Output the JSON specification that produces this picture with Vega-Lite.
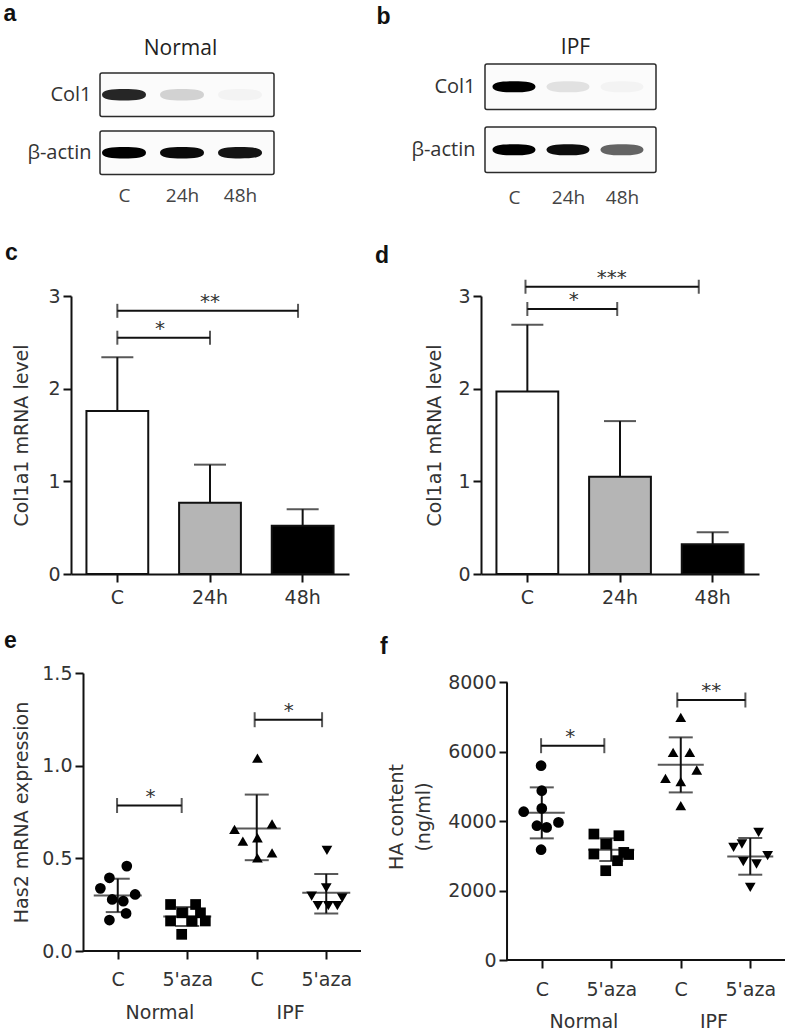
{
  "$schema": "https://vega.github.io/schema/vega-lite/v6.json",
  "padding": {"left": 3, "top": 2, "right": 2, "bottom": 2},
  "columns": 2,
  "spacing": {"row": 99, "column": 120},
  "bounds": "flush",
  "align": "each",
  "datasets": {
    "boxes": [{"protein": "Col1"}, {"protein": "β-actin"}],
    "blotA": [
      {"protein": "Col1", "lane": "C", "pos": 1, "intensity": 0.85},
      {"protein": "Col1", "lane": "24h", "pos": 2, "intensity": 0.16},
      {"protein": "Col1", "lane": "48h", "pos": 3, "intensity": 0.03},
      {"protein": "β-actin", "lane": "C", "pos": 1, "intensity": 1.0},
      {"protein": "β-actin", "lane": "24h", "pos": 2, "intensity": 0.96},
      {"protein": "β-actin", "lane": "48h", "pos": 3, "intensity": 0.92}
    ],
    "blotB": [
      {"protein": "Col1", "lane": "C", "pos": 1, "intensity": 1.0},
      {"protein": "Col1", "lane": "24h", "pos": 2, "intensity": 0.1},
      {"protein": "Col1", "lane": "48h", "pos": 3, "intensity": 0.03},
      {"protein": "β-actin", "lane": "C", "pos": 1, "intensity": 1.0},
      {"protein": "β-actin", "lane": "24h", "pos": 2, "intensity": 0.95},
      {"protein": "β-actin", "lane": "48h", "pos": 3, "intensity": 0.6}
    ],
    "col1a1_normal": [
      {"grp": "C", "mean": 1.76, "upper": 2.34},
      {"grp": "24h", "mean": 0.77, "upper": 1.18},
      {"grp": "48h", "mean": 0.52, "upper": 0.70}
    ],
    "col1a1_ipf": [
      {"grp": "C", "mean": 1.97, "upper": 2.69},
      {"grp": "24h", "mean": 1.05, "upper": 1.65},
      {"grp": "48h", "mean": 0.32, "upper": 0.45}
    ],
    "sig_c": [
      {"from": 1, "to": 2.95, "y": 2.84, "mid": 2.0, "label": "**"},
      {"from": 1, "to": 2.0, "y": 2.55, "mid": 1.46, "label": "*"}
    ],
    "sig_d": [
      {"from": 0.98, "to": 2.85, "y": 3.10, "mid": 1.91, "label": "***"},
      {"from": 1.0, "to": 1.97, "y": 2.86, "mid": 1.50, "label": "*"}
    ],
    "has2": [
      {"group": "Normal C", "x": 1.13, "v": 0.458},
      {"group": "Normal C", "x": 0.88, "v": 0.395},
      {"group": "Normal C", "x": 0.75, "v": 0.338},
      {"group": "Normal C", "x": 1.25, "v": 0.305},
      {"group": "Normal C", "x": 0.92, "v": 0.278},
      {"group": "Normal C", "x": 1.08, "v": 0.269},
      {"group": "Normal C", "x": 1.12, "v": 0.203},
      {"group": "Normal C", "x": 0.88, "v": 0.167},
      {"group": "Normal 5'aza", "x": 1.76, "v": 0.251},
      {"group": "Normal 5'aza", "x": 2.12, "v": 0.251},
      {"group": "Normal 5'aza", "x": 1.92, "v": 0.206},
      {"group": "Normal 5'aza", "x": 2.19, "v": 0.206},
      {"group": "Normal 5'aza", "x": 1.76, "v": 0.162},
      {"group": "Normal 5'aza", "x": 2.07, "v": 0.162},
      {"group": "Normal 5'aza", "x": 2.26, "v": 0.162},
      {"group": "Normal 5'aza", "x": 1.92, "v": 0.090},
      {"group": "IPF C", "x": 3.01, "v": 1.041},
      {"group": "IPF C", "x": 2.68, "v": 0.656},
      {"group": "IPF C", "x": 3.22, "v": 0.686},
      {"group": "IPF C", "x": 2.80, "v": 0.593},
      {"group": "IPF C", "x": 3.01, "v": 0.611},
      {"group": "IPF C", "x": 3.22, "v": 0.530},
      {"group": "IPF C", "x": 3.01, "v": 0.503},
      {"group": "IPF 5'aza", "x": 4.01, "v": 0.543},
      {"group": "IPF 5'aza", "x": 4.00, "v": 0.341},
      {"group": "IPF 5'aza", "x": 3.79, "v": 0.296},
      {"group": "IPF 5'aza", "x": 4.23, "v": 0.287},
      {"group": "IPF 5'aza", "x": 3.88, "v": 0.245},
      {"group": "IPF 5'aza", "x": 4.03, "v": 0.245},
      {"group": "IPF 5'aza", "x": 4.16, "v": 0.245}
    ],
    "has2_summary": [
      {"col": 1, "mean": 0.30, "lo": 0.21, "hi": 0.39},
      {"col": 2, "mean": 0.186, "lo": 0.135, "hi": 0.237},
      {"col": 3, "mean": 0.661, "lo": 0.49, "hi": 0.844},
      {"col": 4, "mean": 0.314, "lo": 0.203, "hi": 0.416}
    ],
    "sig_e": [
      {"from": 0.99, "to": 1.92, "y": 0.785, "mid": 1.47, "label": "*"},
      {"from": 2.97, "to": 3.94, "y": 1.248, "mid": 3.46, "label": "*"}
    ],
    "ha": [
      {"group": "Normal C", "x": 0.99, "v": 5600},
      {"group": "Normal C", "x": 1.00, "v": 4879},
      {"group": "Normal C", "x": 0.74, "v": 4274},
      {"group": "Normal C", "x": 1.00, "v": 4369},
      {"group": "Normal C", "x": 0.93, "v": 3870},
      {"group": "Normal C", "x": 1.07, "v": 3822},
      {"group": "Normal C", "x": 1.24, "v": 3966},
      {"group": "Normal C", "x": 0.99, "v": 3179},
      {"group": "Normal 5'aza", "x": 1.75, "v": 3630},
      {"group": "Normal 5'aza", "x": 2.11, "v": 3582},
      {"group": "Normal 5'aza", "x": 1.92, "v": 3343},
      {"group": "Normal 5'aza", "x": 1.75, "v": 3055},
      {"group": "Normal 5'aza", "x": 2.18, "v": 3101},
      {"group": "Normal 5'aza", "x": 2.25, "v": 3040},
      {"group": "Normal 5'aza", "x": 2.09, "v": 2862},
      {"group": "Normal 5'aza", "x": 1.92, "v": 2574},
      {"group": "IPF C", "x": 3.00, "v": 6992},
      {"group": "IPF C", "x": 2.89, "v": 5983},
      {"group": "IPF C", "x": 3.13, "v": 5983},
      {"group": "IPF C", "x": 3.23, "v": 5476},
      {"group": "IPF C", "x": 2.78, "v": 5234},
      {"group": "IPF C", "x": 3.00, "v": 5139},
      {"group": "IPF C", "x": 3.00, "v": 4447},
      {"group": "IPF 5'aza", "x": 4.12, "v": 3678},
      {"group": "IPF 5'aza", "x": 3.76, "v": 3245},
      {"group": "IPF 5'aza", "x": 3.88, "v": 3343},
      {"group": "IPF 5'aza", "x": 3.90, "v": 2833},
      {"group": "IPF 5'aza", "x": 4.09, "v": 2767},
      {"group": "IPF 5'aza", "x": 4.25, "v": 3006},
      {"group": "IPF 5'aza", "x": 4.00, "v": 2093}
    ],
    "ha_summary": [
      {"col": 1, "mean": 4240, "lo": 3505, "hi": 4975},
      {"col": 2, "mean": 3180, "lo": 2850, "hi": 3510},
      {"col": 3, "mean": 5629, "lo": 4830, "hi": 6416},
      {"col": 4, "mean": 2986, "lo": 2458, "hi": 3516}
    ],
    "sig_f": [
      {"from": 0.99, "to": 1.90, "y": 6176, "mid": 1.41, "label": "*"},
      {"from": 2.95, "to": 3.93, "y": 7493, "mid": 3.44, "label": "**"}
    ]
  },
  "concat": [
    {
      "width": 203, "height": 136,
      "layer": [
        {
          "data": {"name": "boxes"},
          "mark": {"type": "rect", "fill": "#fbfbfb", "stroke": "#2b2b2b", "strokeWidth": 1.5, "cornerRadius": 2},
          "encoding": {
            "x": {"datum": 0.586, "type": "quantitative", "scale": {"domain": [0.086, 3.586], "nice": false, "zero": false},
                  "axis": {"orient": "top", "title": "Normal", "labels": false, "ticks": false, "domain": false, "titleFont": "Open Sans", "titleFontSize": 21, "titleFontWeight": "normal", "titleColor": "#222", "titleX": 109, "titleY": -7, "titleAlign": "center", "titleBaseline": "alphabetic", "titleAngle": 0}},
            "x2": {"datum": 3.586},
            "y": {"field": "protein", "type": "nominal", "sort": null,
                  "scale": {"domain": ["Col1", "β-actin"], "paddingInner": 0.25, "paddingOuter": 0.297, "align": 0.348},
                  "axis": {"title": "a", "titleAngle": 0, "titleX": -97, "titleY": -41, "titleAlign": "left", "titleBaseline": "alphabetic", "titleFont": "Liberation Sans", "titleFontSize": 23, "titleFontWeight": "bold", "titleColor": "#111", "offset": -29, "domain": false, "ticks": false, "tickSize": 0, "labelPadding": 9, "labelFont": "Open Sans", "labelFontSize": 20, "labelColor": "#333"}}
          }
        },
        {
          "data": {"name": "blotA"},
          "mark": {"type": "point", "shape": "M-1,0C-1,-0.22,-0.55,-0.26,0,-0.26C0.55,-0.26,1,-0.22,1,0C1,0.22,0.55,0.26,0,0.26C-0.55,0.26,-1,0.22,-1,0Z", "filled": true, "color": "#000", "size": 1936, "strokeWidth": 0},
          "encoding": {
            "x": {"field": "pos", "type": "quantitative", "scale": {"domain": [0.086, 3.586], "nice": false, "zero": false},
                  "axis": {"orient": "bottom", "values": [1, 2, 3], "labelExpr": "['C','24h','48h'][datum.value-1]", "domain": false, "ticks": false, "tickSize": 0, "labelPadding": 4, "labelBaseline": "alphabetic", "labelFont": "Open Sans", "labelFontSize": 19, "labelColor": "#444", "title": null}},
            "y": {"field": "protein", "type": "nominal", "sort": null,
                  "scale": {"domain": ["Col1", "β-actin"], "paddingInner": 0.25, "paddingOuter": 0.297, "align": 0.348},
                  "axis": {"title": "a", "titleAngle": 0, "titleX": -97, "titleY": -41, "titleAlign": "left", "titleBaseline": "alphabetic", "titleFont": "Liberation Sans", "titleFontSize": 23, "titleFontWeight": "bold", "titleColor": "#111", "offset": -29, "domain": false, "ticks": false, "tickSize": 0, "labelPadding": 9, "labelFont": "Open Sans", "labelFontSize": 20, "labelColor": "#333"}},
            "opacity": {"field": "intensity", "type": "quantitative", "scale": {"domain": [0, 1], "range": [0, 1]}, "legend": null}
          }
        }
      ],
      "resolve": {"axis": {"x": "independent"}}
    },
    {
      "width": 175, "height": 136,
      "layer": [
        {
          "data": {"name": "boxes"},
          "mark": {"type": "rect", "fill": "#fbfbfb", "stroke": "#2b2b2b", "strokeWidth": 1.5, "cornerRadius": 2},
          "encoding": {
            "x": {"datum": 0.463, "type": "quantitative", "scale": {"domain": [0.389, 3.63], "nice": false, "zero": false},
                  "axis": {"orient": "top", "title": "IPF", "labels": false, "ticks": false, "domain": false, "titleFont": "Open Sans", "titleFontSize": 21, "titleFontWeight": "normal", "titleColor": "#222", "titleX": 94, "titleY": -8, "titleAlign": "center", "titleBaseline": "alphabetic", "titleAngle": 0}},
            "x2": {"datum": 3.63},
            "y": {"field": "protein", "type": "nominal", "sort": null,
                  "scale": {"domain": ["Col1", "β-actin"], "paddingInner": 0.278, "paddingOuter": 0.218, "align": 0.109},
                  "axis": {"title": "b", "titleAngle": 0, "titleX": -109, "titleY": -38, "titleAlign": "left", "titleBaseline": "alphabetic", "titleFont": "Liberation Sans", "titleFontSize": 23, "titleFontWeight": "bold", "titleColor": "#111", "offset": -4, "domain": false, "ticks": false, "tickSize": 0, "labelPadding": 10, "labelFont": "Open Sans", "labelFontSize": 20, "labelColor": "#333"}}
          }
        },
        {
          "data": {"name": "blotB"},
          "mark": {"type": "point", "shape": "M-1,0C-1,-0.22,-0.55,-0.26,0,-0.26C0.55,-0.26,1,-0.22,1,0C1,0.22,0.55,0.26,0,0.26C-0.55,0.26,-1,0.22,-1,0Z", "filled": true, "color": "#000", "size": 1850, "strokeWidth": 0},
          "encoding": {
            "x": {"field": "pos", "type": "quantitative", "scale": {"domain": [0.389, 3.63], "nice": false, "zero": false},
                  "axis": {"orient": "bottom", "values": [1, 2, 3], "labelExpr": "['C','24h','48h'][datum.value-1]", "domain": false, "ticks": false, "tickSize": 0, "labelPadding": 6, "labelBaseline": "alphabetic", "labelFont": "Open Sans", "labelFontSize": 19, "labelColor": "#444", "title": null}},
            "y": {"field": "protein", "type": "nominal", "sort": null,
                  "scale": {"domain": ["Col1", "β-actin"], "paddingInner": 0.278, "paddingOuter": 0.218, "align": 0.109},
                  "axis": {"title": "b", "titleAngle": 0, "titleX": -109, "titleY": -38, "titleAlign": "left", "titleBaseline": "alphabetic", "titleFont": "Liberation Sans", "titleFontSize": 23, "titleFontWeight": "bold", "titleColor": "#111", "offset": -4, "domain": false, "ticks": false, "tickSize": 0, "labelPadding": 10, "labelFont": "Open Sans", "labelFontSize": 20, "labelColor": "#333"}},
            "opacity": {"field": "intensity", "type": "quantitative", "scale": {"domain": [0, 1], "range": [0, 1]}, "legend": null}
          }
        }
      ],
      "resolve": {"axis": {"x": "independent"}}
    },
    {
      "width": 278, "height": 278,
      "title": {"text": "c", "dx": -66, "dy": -18},
      "layer": [
        {
          "data": {"name": "col1a1_normal"},
          "mark": {"type": "bar", "stroke": "#111", "strokeWidth": 2},
          "encoding": {
            "x": {"field": "grp", "type": "nominal", "sort": null, "scale": {"domain": ["C", "24h", "48h"], "paddingInner": 0.333, "paddingOuter": 0.1667}, "axis": {"title": null, "labelAngle": 0, "labelPadding": 6}},
            "y": {"field": "mean", "type": "quantitative", "scale": {"domain": [0, 3], "nice": false}, "axis": {"values": [0, 1, 2, 3], "title": "Col1a1 mRNA level", "titlePadding": 16}},
            "color": {"field": "grp", "type": "nominal", "scale": {"domain": ["C", "24h", "48h"], "range": ["#ffffff", "#b5b5b5", "#000000"]}, "legend": null}
          }
        },
        {
          "data": {"name": "col1a1_normal"},
          "mark": {"type": "rule", "strokeWidth": 2, "color": "#111"},
          "encoding": {
            "x": {"field": "grp", "type": "nominal", "sort": null, "scale": {"domain": ["C", "24h", "48h"], "paddingInner": 0.333, "paddingOuter": 0.1667}, "axis": null},
            "y": {"field": "mean", "type": "quantitative", "scale": {"domain": [0, 3], "nice": false}, "axis": {"values": [0, 1, 2, 3], "title": "Col1a1 mRNA level", "titlePadding": 16}},
            "y2": {"field": "upper"}
          }
        },
        {
          "data": {"name": "col1a1_normal"},
          "mark": {"type": "tick", "orient": "horizontal", "size": 32, "thickness": 2, "color": "#111"},
          "encoding": {
            "x": {"field": "grp", "type": "nominal", "sort": null, "scale": {"domain": ["C", "24h", "48h"], "paddingInner": 0.333, "paddingOuter": 0.1667}, "axis": null},
            "y": {"field": "upper", "type": "quantitative", "scale": {"domain": [0, 3], "nice": false}, "axis": {"values": [0, 1, 2, 3], "title": "Col1a1 mRNA level", "titlePadding": 16}}
          }
        },
        {
          "data": {"name": "sig_c"},
          "mark": {"type": "rule", "strokeWidth": 2, "color": "#111"},
          "encoding": {
            "x": {"field": "from", "type": "quantitative", "scale": {"domain": [0.5, 3.5], "nice": false, "zero": false}, "axis": null},
            "x2": {"field": "to"},
            "y": {"field": "y", "type": "quantitative", "scale": {"domain": [0, 3], "nice": false}, "axis": {"values": [0, 1, 2, 3], "title": "Col1a1 mRNA level", "titlePadding": 16}}
          }
        },
        {
          "data": {"name": "sig_c"},
          "mark": {"type": "tick", "orient": "vertical", "size": 14, "thickness": 2, "color": "#111"},
          "encoding": {
            "x": {"field": "from", "type": "quantitative", "scale": {"domain": [0.5, 3.5], "nice": false, "zero": false}, "axis": null},
            "y": {"field": "y", "type": "quantitative", "scale": {"domain": [0, 3], "nice": false}, "axis": {"values": [0, 1, 2, 3], "title": "Col1a1 mRNA level", "titlePadding": 16}}
          }
        },
        {
          "data": {"name": "sig_c"},
          "mark": {"type": "tick", "orient": "vertical", "size": 14, "thickness": 2, "color": "#111"},
          "encoding": {
            "x": {"field": "to", "type": "quantitative", "scale": {"domain": [0.5, 3.5], "nice": false, "zero": false}, "axis": null},
            "y": {"field": "y", "type": "quantitative", "scale": {"domain": [0, 3], "nice": false}, "axis": {"values": [0, 1, 2, 3], "title": "Col1a1 mRNA level", "titlePadding": 16}}
          }
        },
        {
          "data": {"name": "sig_c"},
          "mark": {"type": "text", "fontSize": 20, "dy": -3, "baseline": "alphabetic", "color": "#333"},
          "encoding": {
            "x": {"field": "mid", "type": "quantitative", "scale": {"domain": [0.5, 3.5], "nice": false, "zero": false}, "axis": null},
            "y": {"field": "y", "type": "quantitative", "scale": {"domain": [0, 3], "nice": false}, "axis": {"values": [0, 1, 2, 3], "title": "Col1a1 mRNA level", "titlePadding": 16}},
            "text": {"field": "label"}
          }
        }
      ],
      "resolve": {"scale": {"x": "independent"}}
    },
    {
      "width": 278, "height": 278,
      "title": {"text": "d", "dx": -106, "dy": 4},
      "layer": [
        {
          "data": {"name": "col1a1_ipf"},
          "mark": {"type": "bar", "stroke": "#111", "strokeWidth": 2},
          "encoding": {
            "x": {"field": "grp", "type": "nominal", "sort": null, "scale": {"domain": ["C", "24h", "48h"], "paddingInner": 0.333, "paddingOuter": 0.1667}, "axis": {"title": null, "labelAngle": 0, "labelPadding": 6}},
            "y": {"field": "mean", "type": "quantitative", "scale": {"domain": [0, 3], "nice": false}, "axis": {"values": [0, 1, 2, 3], "title": "Col1a1 mRNA level", "titlePadding": 13}},
            "color": {"field": "grp", "type": "nominal", "scale": {"domain": ["C", "24h", "48h"], "range": ["#ffffff", "#b5b5b5", "#000000"]}, "legend": null}
          }
        },
        {
          "data": {"name": "col1a1_ipf"},
          "mark": {"type": "rule", "strokeWidth": 2, "color": "#111"},
          "encoding": {
            "x": {"field": "grp", "type": "nominal", "sort": null, "scale": {"domain": ["C", "24h", "48h"], "paddingInner": 0.333, "paddingOuter": 0.1667}, "axis": null},
            "y": {"field": "mean", "type": "quantitative", "scale": {"domain": [0, 3], "nice": false}, "axis": {"values": [0, 1, 2, 3], "title": "Col1a1 mRNA level", "titlePadding": 13}},
            "y2": {"field": "upper"}
          }
        },
        {
          "data": {"name": "col1a1_ipf"},
          "mark": {"type": "tick", "orient": "horizontal", "size": 32, "thickness": 2, "color": "#111"},
          "encoding": {
            "x": {"field": "grp", "type": "nominal", "sort": null, "scale": {"domain": ["C", "24h", "48h"], "paddingInner": 0.333, "paddingOuter": 0.1667}, "axis": null},
            "y": {"field": "upper", "type": "quantitative", "scale": {"domain": [0, 3], "nice": false}, "axis": {"values": [0, 1, 2, 3], "title": "Col1a1 mRNA level", "titlePadding": 13}}
          }
        },
        {
          "data": {"name": "sig_d"},
          "mark": {"type": "rule", "strokeWidth": 2, "color": "#111"},
          "encoding": {
            "x": {"field": "from", "type": "quantitative", "scale": {"domain": [0.5, 3.5], "nice": false, "zero": false}, "axis": null},
            "x2": {"field": "to"},
            "y": {"field": "y", "type": "quantitative", "scale": {"domain": [0, 3], "nice": false}, "axis": {"values": [0, 1, 2, 3], "title": "Col1a1 mRNA level", "titlePadding": 13}}
          }
        },
        {
          "data": {"name": "sig_d"},
          "mark": {"type": "tick", "orient": "vertical", "size": 14, "thickness": 2, "color": "#111"},
          "encoding": {
            "x": {"field": "from", "type": "quantitative", "scale": {"domain": [0.5, 3.5], "nice": false, "zero": false}, "axis": null},
            "y": {"field": "y", "type": "quantitative", "scale": {"domain": [0, 3], "nice": false}, "axis": {"values": [0, 1, 2, 3], "title": "Col1a1 mRNA level", "titlePadding": 13}}
          }
        },
        {
          "data": {"name": "sig_d"},
          "mark": {"type": "tick", "orient": "vertical", "size": 14, "thickness": 2, "color": "#111"},
          "encoding": {
            "x": {"field": "to", "type": "quantitative", "scale": {"domain": [0.5, 3.5], "nice": false, "zero": false}, "axis": null},
            "y": {"field": "y", "type": "quantitative", "scale": {"domain": [0, 3], "nice": false}, "axis": {"values": [0, 1, 2, 3], "title": "Col1a1 mRNA level", "titlePadding": 13}}
          }
        },
        {
          "data": {"name": "sig_d"},
          "mark": {"type": "text", "fontSize": 20, "dy": -3, "baseline": "alphabetic", "color": "#333"},
          "encoding": {
            "x": {"field": "mid", "type": "quantitative", "scale": {"domain": [0.5, 3.5], "nice": false, "zero": false}, "axis": null},
            "y": {"field": "y", "type": "quantitative", "scale": {"domain": [0, 3], "nice": false}, "axis": {"values": [0, 1, 2, 3], "title": "Col1a1 mRNA level", "titlePadding": 13}},
            "text": {"field": "label"}
          }
        }
      ],
      "resolve": {"scale": {"x": "independent"}}
    },
    {
      "width": 290, "height": 278,
      "title": {"text": "e", "dx": -67, "dy": -7},
      "layer": [
        {
          "data": {"values": [{}]},
          "mark": {"type": "rule", "strokeWidth": 2, "color": "#111"},
          "encoding": {
            "x": {"datum": 0.5, "type": "quantitative", "scale": {"domain": [0.3273, 4.5], "nice": false, "zero": false},
                  "axis": {"orient": "bottom", "values": [1.6, 3.48], "labelExpr": "datum.value < 2.5 ? 'Normal' : 'IPF'", "ticks": false, "tickSize": 0, "domain": false, "labelPadding": 52, "title": null}},
            "x2": {"datum": 4.5},
            "y": {"datum": 0, "type": "quantitative", "scale": {"domain": [0, 1.5], "nice": false}, "axis": {"values": [0, 0.5, 1, 1.5], "format": ".1f", "title": "Has2  mRNA expression", "titlePadding": 10, "offset": -12}}
          }
        },
        {
          "data": {"name": "has2_summary"},
          "mark": {"type": "rule", "strokeWidth": 2, "color": "#111"},
          "encoding": {
            "x": {"field": "col", "type": "quantitative", "scale": {"domain": [0.3273, 4.5], "nice": false, "zero": false}, "axis": null},
            "y": {"field": "lo", "type": "quantitative", "scale": {"domain": [0, 1.5], "nice": false}, "axis": {"values": [0, 0.5, 1, 1.5], "format": ".1f", "title": "Has2  mRNA expression", "titlePadding": 10, "offset": -12}},
            "y2": {"field": "hi"}
          }
        },
        {
          "data": {"name": "has2_summary"},
          "mark": {"type": "tick", "orient": "horizontal", "size": 48, "thickness": 2, "color": "#111"},
          "encoding": {
            "x": {"field": "col", "type": "quantitative", "scale": {"domain": [0.3273, 4.5], "nice": false, "zero": false}, "axis": null},
            "y": {"field": "mean", "type": "quantitative", "scale": {"domain": [0, 1.5], "nice": false}, "axis": {"values": [0, 0.5, 1, 1.5], "format": ".1f", "title": "Has2  mRNA expression", "titlePadding": 10, "offset": -12}}
          }
        },
        {
          "data": {"name": "has2_summary"},
          "mark": {"type": "tick", "orient": "horizontal", "size": 24, "thickness": 2, "color": "#111"},
          "encoding": {
            "x": {"field": "col", "type": "quantitative", "scale": {"domain": [0.3273, 4.5], "nice": false, "zero": false}, "axis": null},
            "y": {"field": "lo", "type": "quantitative", "scale": {"domain": [0, 1.5], "nice": false}, "axis": {"values": [0, 0.5, 1, 1.5], "format": ".1f", "title": "Has2  mRNA expression", "titlePadding": 10, "offset": -12}}
          }
        },
        {
          "data": {"name": "has2_summary"},
          "mark": {"type": "tick", "orient": "horizontal", "size": 24, "thickness": 2, "color": "#111"},
          "encoding": {
            "x": {"field": "col", "type": "quantitative", "scale": {"domain": [0.3273, 4.5], "nice": false, "zero": false}, "axis": null},
            "y": {"field": "hi", "type": "quantitative", "scale": {"domain": [0, 1.5], "nice": false}, "axis": {"values": [0, 0.5, 1, 1.5], "format": ".1f", "title": "Has2  mRNA expression", "titlePadding": 10, "offset": -12}}
          }
        },
        {
          "data": {"name": "has2"},
          "mark": {"type": "point", "filled": true, "color": "#000", "opacity": 1, "size": 115, "strokeWidth": 0},
          "encoding": {
            "x": {"field": "x", "type": "quantitative", "scale": {"domain": [0.3273, 4.5], "nice": false, "zero": false},
                  "axis": {"orient": "bottom", "values": [1, 2, 3, 4], "labelExpr": "datum.value == 1 || datum.value == 3 ? 'C' : \"5'aza\"", "domain": false, "labelPadding": 11, "title": null}},
            "y": {"field": "v", "type": "quantitative", "scale": {"domain": [0, 1.5], "nice": false}, "axis": {"values": [0, 0.5, 1, 1.5], "format": ".1f", "title": "Has2  mRNA expression", "titlePadding": 10, "offset": -12}},
            "shape": {"field": "group", "type": "nominal", "scale": {"domain": ["Normal C", "Normal 5'aza", "IPF C", "IPF 5'aza"], "range": ["circle", "square", "triangle-up", "triangle-down"]}, "legend": null}
          }
        },
        {
          "data": {"name": "sig_e"},
          "mark": {"type": "rule", "strokeWidth": 2, "color": "#111"},
          "encoding": {
            "x": {"field": "from", "type": "quantitative", "scale": {"domain": [0.3273, 4.5], "nice": false, "zero": false}, "axis": null},
            "x2": {"field": "to"},
            "y": {"field": "y", "type": "quantitative", "scale": {"domain": [0, 1.5], "nice": false}, "axis": {"values": [0, 0.5, 1, 1.5], "format": ".1f", "title": "Has2  mRNA expression", "titlePadding": 10, "offset": -12}}
          }
        },
        {
          "data": {"name": "sig_e"},
          "mark": {"type": "tick", "orient": "vertical", "size": 15, "thickness": 2, "color": "#111"},
          "encoding": {
            "x": {"field": "from", "type": "quantitative", "scale": {"domain": [0.3273, 4.5], "nice": false, "zero": false}, "axis": null},
            "y": {"field": "y", "type": "quantitative", "scale": {"domain": [0, 1.5], "nice": false}, "axis": {"values": [0, 0.5, 1, 1.5], "format": ".1f", "title": "Has2  mRNA expression", "titlePadding": 10, "offset": -12}}
          }
        },
        {
          "data": {"name": "sig_e"},
          "mark": {"type": "tick", "orient": "vertical", "size": 15, "thickness": 2, "color": "#111"},
          "encoding": {
            "x": {"field": "to", "type": "quantitative", "scale": {"domain": [0.3273, 4.5], "nice": false, "zero": false}, "axis": null},
            "y": {"field": "y", "type": "quantitative", "scale": {"domain": [0, 1.5], "nice": false}, "axis": {"values": [0, 0.5, 1, 1.5], "format": ".1f", "title": "Has2  mRNA expression", "titlePadding": 10, "offset": -12}}
          }
        },
        {
          "data": {"name": "sig_e"},
          "mark": {"type": "text", "fontSize": 20, "dy": -3, "baseline": "alphabetic", "color": "#333"},
          "encoding": {
            "x": {"field": "mid", "type": "quantitative", "scale": {"domain": [0.3273, 4.5], "nice": false, "zero": false}, "axis": null},
            "y": {"field": "y", "type": "quantitative", "scale": {"domain": [0, 1.5], "nice": false}, "axis": {"values": [0, 0.5, 1, 1.5], "format": ".1f", "title": "Has2  mRNA expression", "titlePadding": 10, "offset": -12}},
            "text": {"field": "label"}
          }
        }
      ],
      "resolve": {"axis": {"x": "independent"}}
    },
    {
      "width": 304, "height": 287,
      "title": {"text": "f", "dx": -101, "dy": -10},
      "layer": [
        {
          "data": {"values": [{}]},
          "mark": {"type": "rule", "strokeWidth": 2, "color": "#111"},
          "encoding": {
            "x": {"datum": 0.5, "type": "quantitative", "scale": {"domain": [0.1254, 4.5], "nice": false, "zero": false},
                  "axis": {"orient": "bottom", "values": [1.6, 3.47], "labelExpr": "datum.value < 2.5 ? 'Normal' : 'IPF'", "ticks": false, "tickSize": 0, "domain": false, "labelPadding": 52, "title": null}},
            "x2": {"datum": 4.5},
            "y": {"datum": 0, "type": "quantitative", "scale": {"domain": [0, 8271], "nice": false}, "axis": {"values": [0, 2000, 4000, 6000, 8000], "format": "d", "title": ["HA content", "(ng/ml)"], "titleLineHeight": 27, "titlePadding": 14, "offset": -26, "domain": false}}
          }
        },
        {
          "data": {"values": [{}]},
          "mark": {"type": "rule", "strokeWidth": 2, "color": "#111"},
          "encoding": {
            "x": {"datum": 0.5, "type": "quantitative", "scale": {"domain": [0.1254, 4.5], "nice": false, "zero": false}, "axis": null},
            "y": {"datum": 0, "type": "quantitative", "scale": {"domain": [0, 8271], "nice": false}, "axis": {"values": [0, 2000, 4000, 6000, 8000], "format": "d", "title": ["HA content", "(ng/ml)"], "titleLineHeight": 27, "titlePadding": 14, "offset": -26, "domain": false}},
            "y2": {"datum": 8000}
          }
        },
        {
          "data": {"name": "ha_summary"},
          "mark": {"type": "rule", "strokeWidth": 2, "color": "#111"},
          "encoding": {
            "x": {"field": "col", "type": "quantitative", "scale": {"domain": [0.1254, 4.5], "nice": false, "zero": false}, "axis": null},
            "y": {"field": "lo", "type": "quantitative", "scale": {"domain": [0, 8271], "nice": false}, "axis": {"values": [0, 2000, 4000, 6000, 8000], "format": "d", "title": ["HA content", "(ng/ml)"], "titleLineHeight": 27, "titlePadding": 14, "offset": -26, "domain": false}},
            "y2": {"field": "hi"}
          }
        },
        {
          "data": {"name": "ha_summary"},
          "mark": {"type": "tick", "orient": "horizontal", "size": 46, "thickness": 2, "color": "#111"},
          "encoding": {
            "x": {"field": "col", "type": "quantitative", "scale": {"domain": [0.1254, 4.5], "nice": false, "zero": false}, "axis": null},
            "y": {"field": "mean", "type": "quantitative", "scale": {"domain": [0, 8271], "nice": false}, "axis": {"values": [0, 2000, 4000, 6000, 8000], "format": "d", "title": ["HA content", "(ng/ml)"], "titleLineHeight": 27, "titlePadding": 14, "offset": -26, "domain": false}}
          }
        },
        {
          "data": {"name": "ha_summary"},
          "mark": {"type": "tick", "orient": "horizontal", "size": 24, "thickness": 2, "color": "#111"},
          "encoding": {
            "x": {"field": "col", "type": "quantitative", "scale": {"domain": [0.1254, 4.5], "nice": false, "zero": false}, "axis": null},
            "y": {"field": "lo", "type": "quantitative", "scale": {"domain": [0, 8271], "nice": false}, "axis": {"values": [0, 2000, 4000, 6000, 8000], "format": "d", "title": ["HA content", "(ng/ml)"], "titleLineHeight": 27, "titlePadding": 14, "offset": -26, "domain": false}}
          }
        },
        {
          "data": {"name": "ha_summary"},
          "mark": {"type": "tick", "orient": "horizontal", "size": 24, "thickness": 2, "color": "#111"},
          "encoding": {
            "x": {"field": "col", "type": "quantitative", "scale": {"domain": [0.1254, 4.5], "nice": false, "zero": false}, "axis": null},
            "y": {"field": "hi", "type": "quantitative", "scale": {"domain": [0, 8271], "nice": false}, "axis": {"values": [0, 2000, 4000, 6000, 8000], "format": "d", "title": ["HA content", "(ng/ml)"], "titleLineHeight": 27, "titlePadding": 14, "offset": -26, "domain": false}}
          }
        },
        {
          "data": {"name": "ha"},
          "mark": {"type": "point", "filled": true, "color": "#000", "opacity": 1, "size": 115, "strokeWidth": 0},
          "encoding": {
            "x": {"field": "x", "type": "quantitative", "scale": {"domain": [0.1254, 4.5], "nice": false, "zero": false},
                  "axis": {"orient": "bottom", "values": [1, 2, 3, 4], "labelExpr": "datum.value == 1 || datum.value == 3 ? 'C' : \"5'aza\"", "domain": false, "labelPadding": 12, "title": null}},
            "y": {"field": "v", "type": "quantitative", "scale": {"domain": [0, 8271], "nice": false}, "axis": {"values": [0, 2000, 4000, 6000, 8000], "format": "d", "title": ["HA content", "(ng/ml)"], "titleLineHeight": 27, "titlePadding": 14, "offset": -26, "domain": false}},
            "shape": {"field": "group", "type": "nominal", "scale": {"domain": ["Normal C", "Normal 5'aza", "IPF C", "IPF 5'aza"], "range": ["circle", "square", "triangle-up", "triangle-down"]}, "legend": null}
          }
        },
        {
          "data": {"name": "sig_f"},
          "mark": {"type": "rule", "strokeWidth": 2, "color": "#111"},
          "encoding": {
            "x": {"field": "from", "type": "quantitative", "scale": {"domain": [0.1254, 4.5], "nice": false, "zero": false}, "axis": null},
            "x2": {"field": "to"},
            "y": {"field": "y", "type": "quantitative", "scale": {"domain": [0, 8271], "nice": false}, "axis": {"values": [0, 2000, 4000, 6000, 8000], "format": "d", "title": ["HA content", "(ng/ml)"], "titleLineHeight": 27, "titlePadding": 14, "offset": -26, "domain": false}}
          }
        },
        {
          "data": {"name": "sig_f"},
          "mark": {"type": "tick", "orient": "vertical", "size": 15, "thickness": 2, "color": "#111"},
          "encoding": {
            "x": {"field": "from", "type": "quantitative", "scale": {"domain": [0.1254, 4.5], "nice": false, "zero": false}, "axis": null},
            "y": {"field": "y", "type": "quantitative", "scale": {"domain": [0, 8271], "nice": false}, "axis": {"values": [0, 2000, 4000, 6000, 8000], "format": "d", "title": ["HA content", "(ng/ml)"], "titleLineHeight": 27, "titlePadding": 14, "offset": -26, "domain": false}}
          }
        },
        {
          "data": {"name": "sig_f"},
          "mark": {"type": "tick", "orient": "vertical", "size": 15, "thickness": 2, "color": "#111"},
          "encoding": {
            "x": {"field": "to", "type": "quantitative", "scale": {"domain": [0.1254, 4.5], "nice": false, "zero": false}, "axis": null},
            "y": {"field": "y", "type": "quantitative", "scale": {"domain": [0, 8271], "nice": false}, "axis": {"values": [0, 2000, 4000, 6000, 8000], "format": "d", "title": ["HA content", "(ng/ml)"], "titleLineHeight": 27, "titlePadding": 14, "offset": -26, "domain": false}}
          }
        },
        {
          "data": {"name": "sig_f"},
          "mark": {"type": "text", "fontSize": 20, "dy": -3, "baseline": "alphabetic", "color": "#333"},
          "encoding": {
            "x": {"field": "mid", "type": "quantitative", "scale": {"domain": [0.1254, 4.5], "nice": false, "zero": false}, "axis": null},
            "y": {"field": "y", "type": "quantitative", "scale": {"domain": [0, 8271], "nice": false}, "axis": {"values": [0, 2000, 4000, 6000, 8000], "format": "d", "title": ["HA content", "(ng/ml)"], "titleLineHeight": 27, "titlePadding": 14, "offset": -26, "domain": false}},
            "text": {"field": "label"}
          }
        }
      ],
      "resolve": {"axis": {"x": "independent"}}
    }
  ],
  "config": {
    "view": {"stroke": null},
    "font": "DejaVu Sans",
    "axis": {"labelFont": "DejaVu Sans", "labelFontSize": 19, "labelColor": "#333", "titleFont": "DejaVu Sans", "titleFontSize": 19, "titleFontWeight": "normal", "titleColor": "#333", "domainColor": "#111", "domainWidth": 2, "tickColor": "#111", "tickWidth": 2, "tickSize": 8, "grid": false, "labelPadding": 3, "labelFlush": false, "labelOverlap": false},
    "title": {"font": "Liberation Sans", "fontSize": 23, "fontWeight": "bold", "anchor": "start", "frame": "group", "color": "#111", "offset": 0},
    "text": {"font": "DejaVu Sans"}
  }
}
